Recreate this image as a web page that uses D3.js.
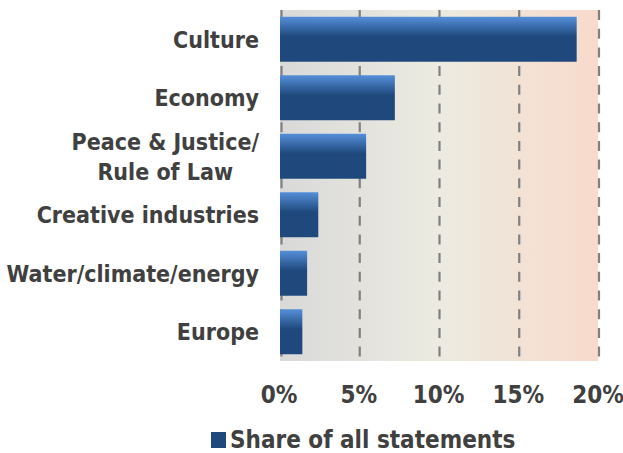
<!DOCTYPE html>
<html><head><meta charset="utf-8">
<script src="https://cdn.jsdelivr.net/npm/d3@7"></script>
<style>
html,body{margin:0;padding:0;background:#fff;}
svg{display:block;}
text{font-family:"DejaVu Sans Condensed","DejaVu Sans",sans-serif;font-stretch:condensed;font-weight:bold;fill:#404040;}
</style></head>
<body>
<svg id="chart" width="623" height="453"></svg>
<script>
const categories = ["Culture", "Economy", "Peace & Justice/\nRule of Law", "Creative industries", "Water/climate/energy", "Europe"];
const shares = [18.6, 7.2, 5.4, 2.4, 1.7, 1.4];
const tickValues = [0, 5, 10, 15, 20];
const tickLabels = ["0%", "5%", "10%", "15%", "20%"];
const seriesName = "Share of all statements";

const svg = d3.select("#chart");
const plot = {left: 280, right: 599, top: 10, bottom: 361};

const x = d3.scaleLinear().domain([0, 20]).range([plot.left, plot.right]);
const y = d3.scaleBand().domain(categories).range([plot.top, plot.bottom]).paddingInner(0.231).paddingOuter(0.1155);

const defs = svg.append("defs");
const bg = defs.append("linearGradient").attr("id", "bgGrad").attr("x1", "0").attr("x2", "1").attr("y1", "0").attr("y2", "0");
bg.append("stop").attr("offset", "0").attr("stop-color", "#d9d9d9");
bg.append("stop").attr("offset", "0.5").attr("stop-color", "#ecebe1");
bg.append("stop").attr("offset", "1").attr("stop-color", "#f8dacb");

const bar = defs.append("linearGradient").attr("id", "barGrad").attr("x1", "0").attr("x2", "0").attr("y1", "0").attr("y2", "1");
bar.append("stop").attr("offset", "0").attr("stop-color", "#558fd9");
bar.append("stop").attr("offset", "0.44").attr("stop-color", "#1f497d");
bar.append("stop").attr("offset", "1").attr("stop-color", "#1f497d");

// plot background
svg.append("rect")
  .attr("x", plot.left).attr("y", plot.top)
  .attr("width", x(20) - plot.left - 1).attr("height", plot.bottom - plot.top)
  .attr("fill", "url(#bgGrad)");

// gridlines
svg.append("g").selectAll("line").data(tickValues).join("line")
  .attr("x1", d => x(d) + (d === 0 ? 1.5 : 0)).attr("x2", d => x(d) + (d === 0 ? 1.5 : 0))
  .attr("y1", plot.top).attr("y2", plot.bottom)
  .attr("stroke", "#808080").attr("stroke-width", 2.2)
  .attr("stroke-dasharray", "10,8.7");

// bars
svg.append("g").selectAll("rect").data(categories).join("rect")
  .attr("x", x(0))
  .attr("y", d => y(d))
  .attr("width", (d, i) => x(shares[i]) - x(0))
  .attr("height", y.bandwidth())
  .attr("fill", "url(#barGrad)");

// category labels
const labelRight = 259;
const lineH = 30;
const lg = svg.append("g");
categories.forEach(c => {
  const lines = c.split("\n");
  const cy = y(c) + y.bandwidth() / 2;
  const g = lg.append("g");
  const texts = lines.map((ln, i) => g.append("text")
      .attr("y", cy + (i - (lines.length - 1) / 2) * lineH)
      .attr("dy", "0.36em")
      .attr("font-size", 23)
      .text(ln));
  const widths = texts.map(t => t.node().getComputedTextLength());
  const maxW = Math.max(...widths);
  texts.forEach(t => t.attr("x", labelRight - maxW / 2).attr("text-anchor", "middle"));
});

// x axis labels
svg.append("g").selectAll("text").data(tickValues).join("text")
  .attr("x", d => x(d) - 1)
  .attr("y", 403)
  .attr("text-anchor", "middle")
  .attr("font-size", 24)
  .text((d, i) => tickLabels[i]);

// legend
svg.append("rect").attr("x", 211).attr("y", 432).attr("width", 15).attr("height", 16).attr("fill", "#1f497d");
svg.append("text").attr("x", 230).attr("y", 448).attr("font-size", 24).text(seriesName);
</script>
</body></html>
